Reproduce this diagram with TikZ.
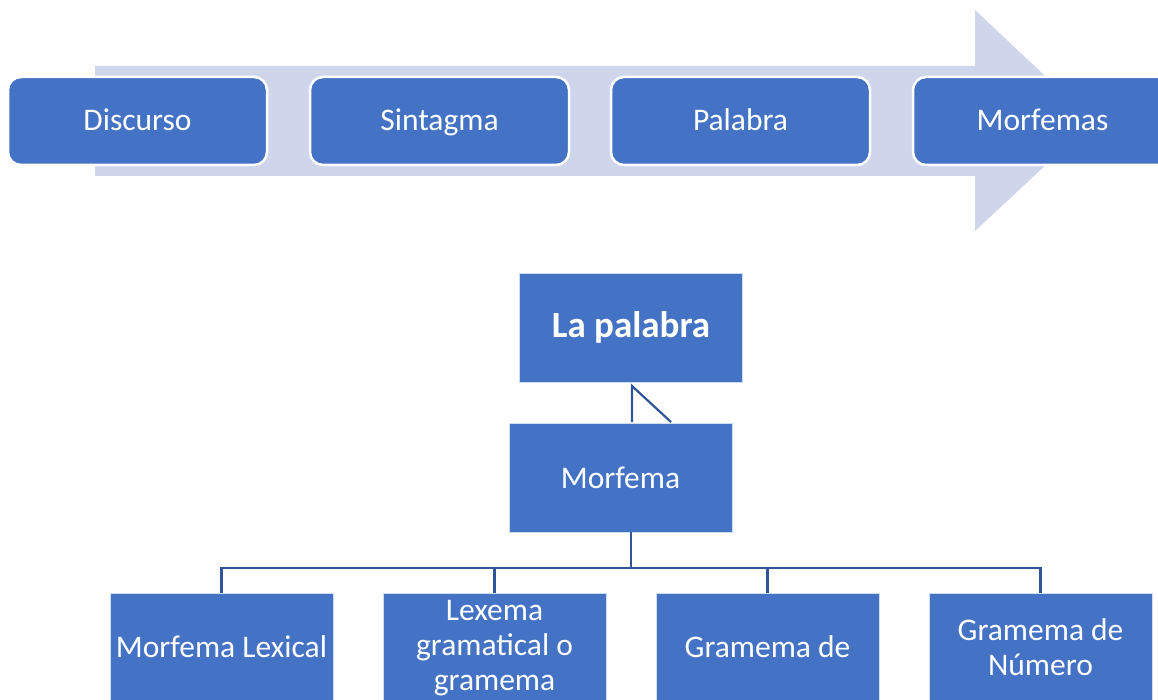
\documentclass[tikz,border=0pt]{standalone}
\usepackage{fontspec}
\setmainfont{Carlito}
\definecolor{boxblue}{HTML}{4472C4}
\definecolor{arrowbg}{HTML}{CFD5EA}
\definecolor{linkblue}{HTML}{2F5597}
\tikzset{
  stepbox/.style={draw=white, line width=2.5pt, fill=boxblue, rounded corners=13pt,
    minimum width=259pt, minimum height=88pt, inner sep=0pt},
  steptext/.style={text=white, anchor=base, inner sep=0pt,
    font=\fontsize{31.5}{35}\selectfont},
  treebox/.style={draw=white!75!boxblue, line width=0.8pt, fill=boxblue,
    minimum width=223pt, minimum height=109pt, inner sep=0pt, text=white,
    align=center, font=\fontsize{31.5}{35}\selectfont},
  boxtext/.style={text=white, font=\fontsize{31.5}{35}\selectfont, align=center, inner sep=0pt},
  link/.style={draw=linkblue, line width=2.6pt}
}
\begin{document}
\begin{tikzpicture}[x=1pt,y=-1pt]
\useasboundingbox (0,0) rectangle (1158,700);
\clip (0,0) rectangle (1158,700);
% big background arrow
\fill[arrowbg] (95,66) -- (975,66) -- (975,10) -- (1093,121) -- (975,231) -- (975,176) -- (95,176) -- cycle;
% step boxes
\node[stepbox] (disc) at (137.5,121) {};
\node[stepbox] (sint) at (439.5,121) {};
\node[stepbox] (pal) at (740.5,121) {};
\node[stepbox] (morfs) at (1042.5,121) {};
\node[steptext] (disct) at (137.5,131) {Discurso};
\node[steptext] (sintt) at (439.5,131) {Sintagma};
\node[steptext] (palt) at (740.5,131) {Palabra};
\node[steptext] (morfst) at (1042.5,131) {Morfemas};
% hierarchy
\node[treebox, font=\bfseries\fontsize{37}{42}\selectfont] (lapal) at (631,327.5) {La palabra};
\node[treebox] (morf) at (620.5,477.5) {Morfema};
\coordinate (cA) at (632,386);
\coordinate (cB) at (632,422);
\coordinate (cC) at (671,422);
\draw[link, line width=2.2pt] (cC) -- (cA) -- (cB);
\node[treebox, minimum height=130pt] (lex) at (221.5,658) {};
\node[treebox, minimum height=130pt] (lexg) at (494.5,658) {};
\node[treebox, minimum height=130pt] (gra) at (767.5,658) {};
\node[treebox, minimum height=130pt] (num) at (1040.5,658) {};
\node[boxtext] (lext) at (221.5,647) {Morfema Lexical};
\node[boxtext] (lexgt) at (494.5,648) {Lexema\\gramatical o\\gramema};
\node[boxtext] (grat) at (767.5,647) {Gramema de};
\node[boxtext] (numt) at (1040.5,647) {Gramema de\\Número};
\coordinate (bus) at (631,568);
\draw[link] (631,532) -- (bus);
\draw[link] (lex.north) |- (bus) -| (num.north);
\draw[link] (lexg.north) -- (lexg.north |- bus);
\draw[link] (gra.north) -- (gra.north |- bus);
\end{tikzpicture}
\end{document}
